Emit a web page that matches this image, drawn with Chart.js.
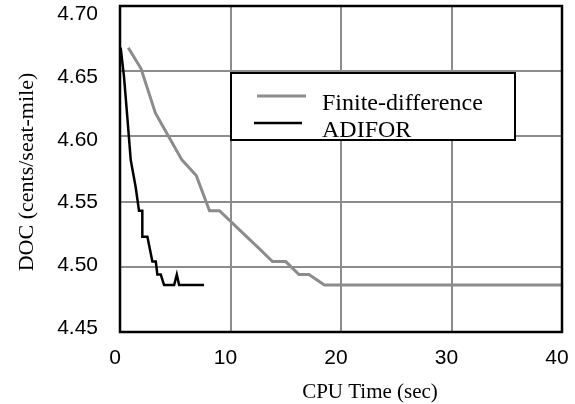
<!DOCTYPE html>
<html>
<head>
<meta charset="utf-8">
<script src="https://cdn.jsdelivr.net/npm/chart.js@4.4.1/dist/chart.umd.min.js"></script>
<style>
  html, body { margin: 0; padding: 0; background: #ffffff; }
  #wrap { width: 575px; height: 404px; }
</style>
</head>
<body>
<div id="wrap"><canvas id="docChart" width="575" height="404"></canvas></div>
<script>
// DOC vs CPU time, finite-difference vs ADIFOR gradients
const fdTime = [0.75, 1.9, 3.2, 4.4, 5.6, 6.9, 8.1, 9.0, 11.1, 12.6, 13.8, 15.0, 16.2, 17.1, 18.5, 40];
const fdDoc = [4.668, 4.652, 4.618, 4.600, 4.582, 4.570, 4.543, 4.543, 4.526, 4.514, 4.504, 4.504, 4.494, 4.494, 4.486, 4.486];

const adTime = [0.06, 0.36, 0.66, 0.97, 1.42, 1.72, 2.02, 2.02, 2.48, 2.93, 3.24, 3.38, 3.69, 3.99, 4.9, 5.14, 5.35, 7.6];
const adDoc = [4.668, 4.646, 4.615, 4.582, 4.561, 4.543, 4.543, 4.523, 4.523, 4.504, 4.504, 4.494, 4.494, 4.486, 4.486, 4.494, 4.486, 4.486];

const xTicks = [0, 10, 20, 30, 40];
const yTicks = [4.45, 4.50, 4.55, 4.60, 4.65, 4.70];

const SERIF = "'Liberation Serif', 'Times New Roman', serif";
const SANS = "'Liberation Sans', Arial, sans-serif";
const GRID_GRAY = '#8c8c8c';

function toPoints(xs, ys) {
    return xs.map((x, i) => ({ x: x, y: ys[i] }));
}

function setTicks(values) {
    return function (scale) {
        scale.ticks = values.map(v => ({ value: v }));
    };
}

function innerGrid(min, max) {
    return function (ctx) {
        const v = ctx.tick && ctx.tick.value;
        return (v === min || v === max) ? 'rgba(0,0,0,0)' : GRID_GRAY;
    };
}

// frame, legend box and axis titles
const decorations = {
    id: 'decorations',
    afterDatasetsDraw(chart) {
        const ctx = chart.ctx;
        const a = chart.chartArea;
        ctx.save();

        ctx.strokeStyle = '#000000';
        ctx.lineWidth = 2.5;
        ctx.strokeRect(a.left, a.top, a.right - a.left, a.bottom - a.top);

        // legend
        ctx.fillStyle = '#ffffff';
        ctx.fillRect(231, 73, 284, 67);
        ctx.lineWidth = 2;
        ctx.strokeRect(231, 73, 284, 67);

        const sets = chart.data.datasets;
        const rows = [
            { ds: sets[1], x1: 257, x2: 306, ly: 96, ty: 109.5 },
            { ds: sets[0], x1: 254, x2: 302, ly: 123, ty: 136.5 },
        ];
        ctx.font = '24px ' + SERIF;
        ctx.textAlign = 'left';
        ctx.textBaseline = 'alphabetic';
        rows.forEach(r => {
            ctx.strokeStyle = r.ds.borderColor;
            ctx.lineWidth = r.ds.borderWidth;
            ctx.beginPath();
            ctx.moveTo(r.x1, r.ly);
            ctx.lineTo(r.x2, r.ly);
            ctx.stroke();
            ctx.fillStyle = '#000000';
            ctx.fillText(r.ds.label, 322, r.ty);
        });

        // axis titles
        ctx.fillStyle = '#000000';
        ctx.font = '21px ' + SERIF;
        ctx.textAlign = 'center';
        ctx.fillText('CPU Time (sec)', 370, 398);

        ctx.translate(33, 172);
        ctx.rotate(-Math.PI / 2);
        ctx.font = '22px ' + SERIF;
        ctx.fillText('DOC (cents/seat-mile)', 0, 0);

        ctx.restore();
    },
};

new Chart(document.getElementById('docChart'), {
    type: 'scatter',
    data: {
        datasets: [
            {
                label: 'ADIFOR',
                data: toPoints(adTime, adDoc),
                showLine: true,
                borderColor: '#000000',
                borderWidth: 2.5,
                pointRadius: 0,
                tension: 0,
                order: 1,
            },
            {
                label: 'Finite-difference',
                data: toPoints(fdTime, fdDoc),
                showLine: true,
                borderColor: '#8c8c8c',
                borderWidth: 3,
                pointRadius: 0,
                tension: 0,
                order: 2,
            },
        ],
    },
    options: {
        responsive: false,
        animation: false,
        layout: { padding: { top: 6, right: 13, left: 0, bottom: 0 } },
        plugins: {
            legend: { display: false },
            tooltip: { enabled: false },
        },
        scales: {
            x: {
                type: 'linear',
                min: 0,
                max: 40,
                afterBuildTicks: setTicks(xTicks),
                afterFit(scale) {
                    scale.height = 72;
                    scale.paddingLeft = 0;
                    scale.paddingRight = 0;
                },
                border: { display: false },
                grid: { color: innerGrid(0, 40), lineWidth: 2, drawTicks: false },
                ticks: {
                    color: '#000000',
                    font: { family: SANS, size: 21 },
                    padding: 14,
                    labelOffset: -5,
                    maxRotation: 0,
                    autoSkip: false,
                },
            },
            y: {
                type: 'linear',
                position: 'left',
                min: 4.45,
                max: 4.70,
                afterBuildTicks: setTicks(yTicks),
                afterFit(scale) {
                    scale.width = 0;
                    scale.paddingTop = 0;
                    scale.paddingBottom = 0;
                },
                border: { display: false },
                grid: { color: innerGrid(4.45, 4.70), lineWidth: 2, drawTicks: false },
                ticks: { display: false },
            },
            yLabels: {
                type: 'linear',
                position: 'left',
                min: 4.4468,
                max: 4.7068,
                afterBuildTicks: setTicks(yTicks),
                afterFit(scale) {
                    scale.width = 120;
                    scale.paddingTop = 0;
                    scale.paddingBottom = 0;
                },
                border: { display: false },
                grid: { display: false, drawTicks: false },
                ticks: {
                    color: '#000000',
                    font: { family: SANS, size: 21 },
                    padding: 22,
                    autoSkip: false,
                    callback: v => Number(v).toFixed(2),
                },
            },
        },
    },
    plugins: [decorations],
});
</script>
</body>
</html>
